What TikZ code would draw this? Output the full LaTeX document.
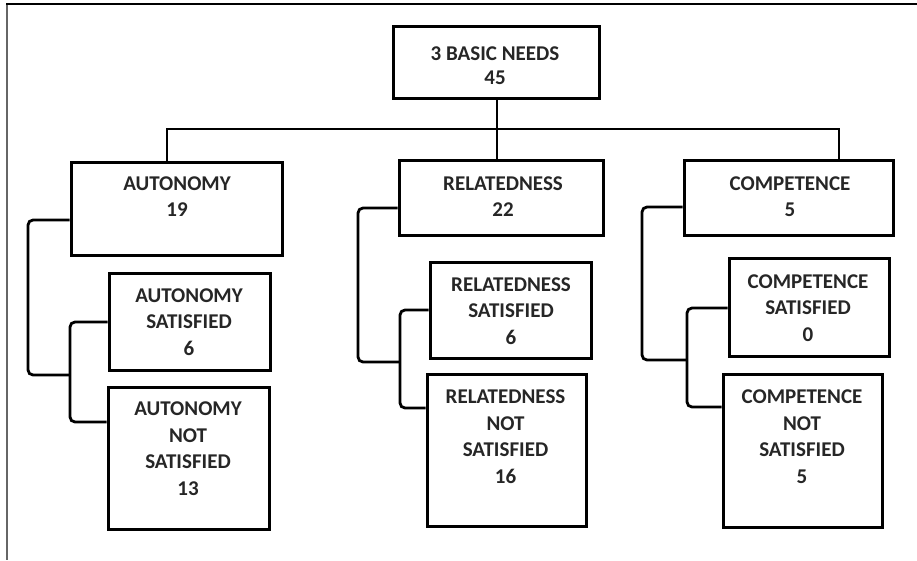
\documentclass[tikz,border=0pt]{standalone}
\usepackage{fontspec}
\setmainfont{Carlito}
\tikzset{
  boxnode/.style={draw=black, line width=3pt, rectangle, inner sep=0pt, fill=white},
  txt/.style={align=center, inner sep=0pt, font=\fontsize{21}{26.5}\selectfont\bfseries, text=black!85},
  conn/.style={draw=black, line width=2.8pt, rounded corners=5pt},
}
\begin{document}
\begin{tikzpicture}[x=1pt,y=-1pt]
\useasboundingbox (0,0) rectangle (917,560);
\fill[white] (0,0) rectangle (917,560);
% frame
\draw[gray!80!black, line width=2pt] (6.5,4) -- (6.5,560);
\draw[black, line width=1.8pt] (6,4) -- (917,4);

% boxes
\node[boxnode, minimum width=206pt, minimum height=72pt] (top) at (496,62) {};
\node[boxnode, minimum width=211pt, minimum height=93pt] (aut) at (176.5,208.5) {};
\node[boxnode, minimum width=204pt, minimum height=75pt] (rel) at (501,197.5) {};
\node[boxnode, minimum width=209pt, minimum height=75pt] (comp) at (788.5,197.5) {};
\node[boxnode, minimum width=161pt, minimum height=97pt] (as) at (189.5,321.5) {};
\node[boxnode, minimum width=161pt, minimum height=142pt] (ans) at (188.5,458) {};
\node[boxnode, minimum width=161pt, minimum height=96pt] (rs) at (510.5,310) {};
\node[boxnode, minimum width=159pt, minimum height=152pt] (rns) at (506.5,450) {};
\node[boxnode, minimum width=160pt, minimum height=98pt] (cs) at (809,307) {};
\node[boxnode, minimum width=159pt, minimum height=153pt] (cns) at (802.5,450.5) {};

% texts
\node[txt, font=\fontsize{21}{24}\selectfont\bfseries] (topT) at (495,65.5) {3 BASIC NEEDS\\45};
\node[txt] (autT) at (177,196.5) {AUTONOMY\\19};
\node[txt] (relT) at (503,196.5) {RELATEDNESS\\22};
\node[txt] (compT) at (790,196.5) {COMPETENCE\\5};
\node[txt] (asT) at (189,322) {AUTONOMY\\SATISFIED\\6};
\node[txt] (ansT) at (188,448.5) {AUTONOMY\\NOT\\SATISFIED\\13};
\node[txt] (rsT) at (511,311) {RELATEDNESS\\SATISFIED\\6};
\node[txt] (rnsT) at (505.5,436.5) {RELATEDNESS\\NOT\\SATISFIED\\16};
\node[txt] (csT) at (808,308) {COMPETENCE\\SATISFIED\\0};
\node[txt] (cnsT) at (802,436.5) {COMPETENCE\\NOT\\SATISFIED\\5};

% top tree
\coordinate (hl) at (167,129);
\coordinate (hr) at (839,129);
\coordinate (hm) at (497,129);
\draw[conn, rounded corners=0pt] (top.south -| hm) -- (hm |- rel.north);
\draw[conn, rounded corners=0pt] (hl |- aut.north) -- (hl) -- (hr) -- (hr |- comp.north);

% autonomy brackets
\draw[conn] (aut.west |- 0,220) -- (28,220) -- (28,375) -- (70,375);
\draw[conn] (as.west |- 0,322) -- (70,322) -- (70,422) -- (ans.west |- 0,422);

% relatedness brackets
\draw[conn] (rel.west |- 0,208) -- (358,208) -- (358,362) -- (400,362);
\draw[conn] (rs.west |- 0,310) -- (400,310) -- (400,408) -- (rns.west |- 0,408);

% competence brackets
\draw[conn] (comp.west |- 0,207) -- (642,207) -- (642,360) -- (687,360);
\draw[conn] (cs.west |- 0,308) -- (687,308) -- (687,407) -- (cns.west |- 0,407);
\end{tikzpicture}
\end{document}
